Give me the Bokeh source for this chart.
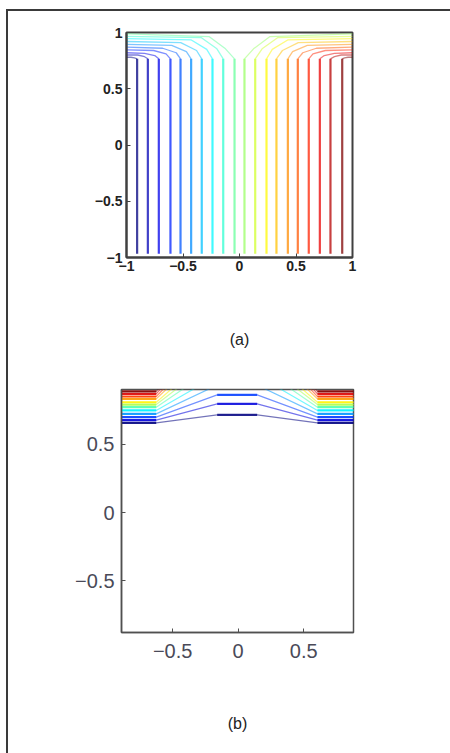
import numpy as np
from bokeh.plotting import figure
from bokeh.layouts import column, row
from bokeh.models import Range1d, FixedTicker
from bokeh.embed import file_html
from bokeh.resources import INLINE

# ---------------- data: panel (a) ----------------
a_ticks = [-1, -0.5, 0, 0.5, 1]
a_levels_x = [-0.906, -0.811, -0.714, -0.611, -0.522, -0.428, -0.334, -0.239, -0.144, -0.044,
              0.044, 0.139, 0.239, 0.327, 0.428, 0.516, 0.613, 0.711, 0.805, 0.909]
a_bottom_y = -0.967
a_knee_y = 0.766
a_bend1_x = [-0.93, -0.84, -0.75, -0.65, -0.56, -0.47, -0.38, -0.29, -0.20, -0.124,
             0.124, 0.20, 0.29, 0.38, 0.47, 0.56, 0.65, 0.75, 0.84, 0.93]
a_bend1_y = [0.775, 0.785, 0.795, 0.81, 0.82, 0.83, 0.84, 0.85, 0.855, 0.855,
             0.855, 0.855, 0.85, 0.84, 0.83, 0.82, 0.81, 0.795, 0.785, 0.775]
a_bend2_x = [-0.96, -0.90, -0.84, -0.76, -0.68, -0.60, -0.52, -0.43, -0.34, -0.27,
             0.27, 0.34, 0.43, 0.52, 0.60, 0.68, 0.76, 0.84, 0.90, 0.96]
a_bend2_y = [0.78, 0.80, 0.815, 0.84, 0.86, 0.885, 0.91, 0.935, 0.955, 0.964,
             0.964, 0.955, 0.935, 0.91, 0.885, 0.86, 0.84, 0.815, 0.80, 0.78]
a_end_x = [-1.0] * 10 + [1.0] * 10
a_end_y = [0.78, 0.80, 0.82, 0.845, 0.87, 0.895, 0.92, 0.945, 0.965, 0.988,
           0.988, 0.965, 0.945, 0.92, 0.895, 0.87, 0.845, 0.82, 0.80, 0.78]

# ---------------- data: panel (b) ----------------
b_ticks = [-0.5, 0, 0.5]
b_side_y = [0.655, 0.675, 0.696, 0.720, 0.745, 0.769, 0.788, 0.805, 0.830, 0.847, 0.866, 0.885]
b_mid_y = [0.713, 0.793, 0.859, 0.93, 1.0, 1.07, 1.13, 1.19, 1.25, 1.31, 1.37, 1.43]
b_edge_x = [-1.0, 1.0]
b_knee_x = [-0.625, 0.605]
b_mid_x = [-0.16, 0.145]


def jet(t):
    r = np.clip(1.5 - abs(4 * t - 3), 0, 1)
    g = np.clip(1.5 - abs(4 * t - 2), 0, 1)
    b = np.clip(1.5 - abs(4 * t - 1), 0, 1)
    return "#%02x%02x%02x" % (int(r * 255), int(g * 255), int(b * 255))


FONT = "Liberation Sans"


def style(p, ticks, lab_size, lab_style, lab_color, xstand, ystand, outline_w, outline_c, label, label_standoff):
    p.grid.visible = False
    p.background_fill_color = "white"
    p.border_fill_color = "white"
    p.outline_line_color = outline_c
    p.outline_line_width = outline_w
    for ax, st in ((p.xaxis[0], xstand), (p.yaxis[0], ystand)):
        ax.ticker = FixedTicker(ticks=ticks)
        ax.major_tick_in = 4
        ax.major_tick_out = 0
        ax.minor_tick_line_color = None
        ax.major_tick_line_color = outline_c
        ax.axis_line_color = outline_c
        ax.axis_line_width = outline_w
        ax.major_label_text_font = FONT
        ax.major_label_text_font_size = lab_size
        ax.major_label_text_font_style = lab_style
        ax.major_label_text_color = lab_color
        ax.major_label_standoff = st
    p.xaxis[0].axis_label = label
    p.xaxis[0].axis_label_text_font = FONT
    p.xaxis[0].axis_label_text_font_size = "16px"
    p.xaxis[0].axis_label_text_font_style = "normal"
    p.xaxis[0].axis_label_text_color = "#222222"
    p.xaxis[0].axis_label_standoff = label_standoff


# ---------------- panel (a) ----------------
pa = figure(frame_width=226, frame_height=225, min_border_left=118, min_border_right=98,
            min_border_top=21, min_border_bottom=119,
            x_range=Range1d(-1, 1), y_range=Range1d(-1, 1),
            output_backend="svg", toolbar_location=None)
style(pa, a_ticks, "14px", "bold", "#222222", 3, 4, 2, "#404040", "(a)", 57)

n_a = len(a_levels_x)
a_colors = [jet(i / (n_a - 1)) for i in range(n_a)]
pa.multi_line(xs=[[a_levels_x[i], a_bend1_x[i], a_bend2_x[i], a_end_x[i]] for i in range(n_a)],
              ys=[[a_knee_y, a_bend1_y[i], a_bend2_y[i], a_end_y[i]] for i in range(n_a)],
              line_color=a_colors, line_width=1.3, line_alpha=0.5)
pa.segment(x0=a_levels_x, y0=[a_bottom_y] * n_a, x1=a_levels_x, y1=[a_knee_y] * n_a,
           line_color=a_colors, line_width=2.2, line_alpha=0.75)

# ---------------- panel (b) ----------------
pb = figure(frame_width=232, frame_height=243, min_border_left=113, min_border_right=97,
            min_border_top=13, min_border_bottom=121,
            x_range=Range1d(-0.89, 0.88), y_range=Range1d(-0.876, 0.898),
            output_backend="svg", toolbar_location=None)
style(pb, b_ticks, "20px", "normal", "#4a4a58", 11, 7, 1.5, "#505050", "(b)", 54)

n_b = len(b_side_y)
b_colors = [jet(i / (n_b - 1)) for i in range(n_b)]
pb.multi_line(xs=[[b_edge_x[0], b_knee_x[0], b_mid_x[0], b_mid_x[1], b_knee_x[1], b_edge_x[1]]] * n_b,
              ys=[[b_side_y[i], b_side_y[i], b_mid_y[i], b_mid_y[i], b_side_y[i], b_side_y[i]] for i in range(n_b)],
              line_color=b_colors, line_width=1.2, line_alpha=0.55)
pb.segment(x0=[b_edge_x[0]] * n_b, y0=b_side_y, x1=[b_knee_x[0]] * n_b, y1=b_side_y,
           line_color=b_colors, line_width=2.2, line_alpha=0.85)
pb.segment(x0=[b_knee_x[1]] * n_b, y0=b_side_y, x1=[b_edge_x[1]] * n_b, y1=b_side_y,
           line_color=b_colors, line_width=2.2, line_alpha=0.85)
pb.segment(x0=[b_mid_x[0]] * n_b, y0=b_mid_y, x1=[b_mid_x[1]] * n_b, y1=b_mid_y,
           line_color=b_colors, line_width=2.2, line_alpha=0.8)

layout = column(row(pa), row(pb), margin=(9, 0, 0, 6),
                styles={"border-left": "2px solid #3a3a3a", "border-top": "2px solid #3a3a3a"})

open("out.html", "w").write(file_html(layout, INLINE))
